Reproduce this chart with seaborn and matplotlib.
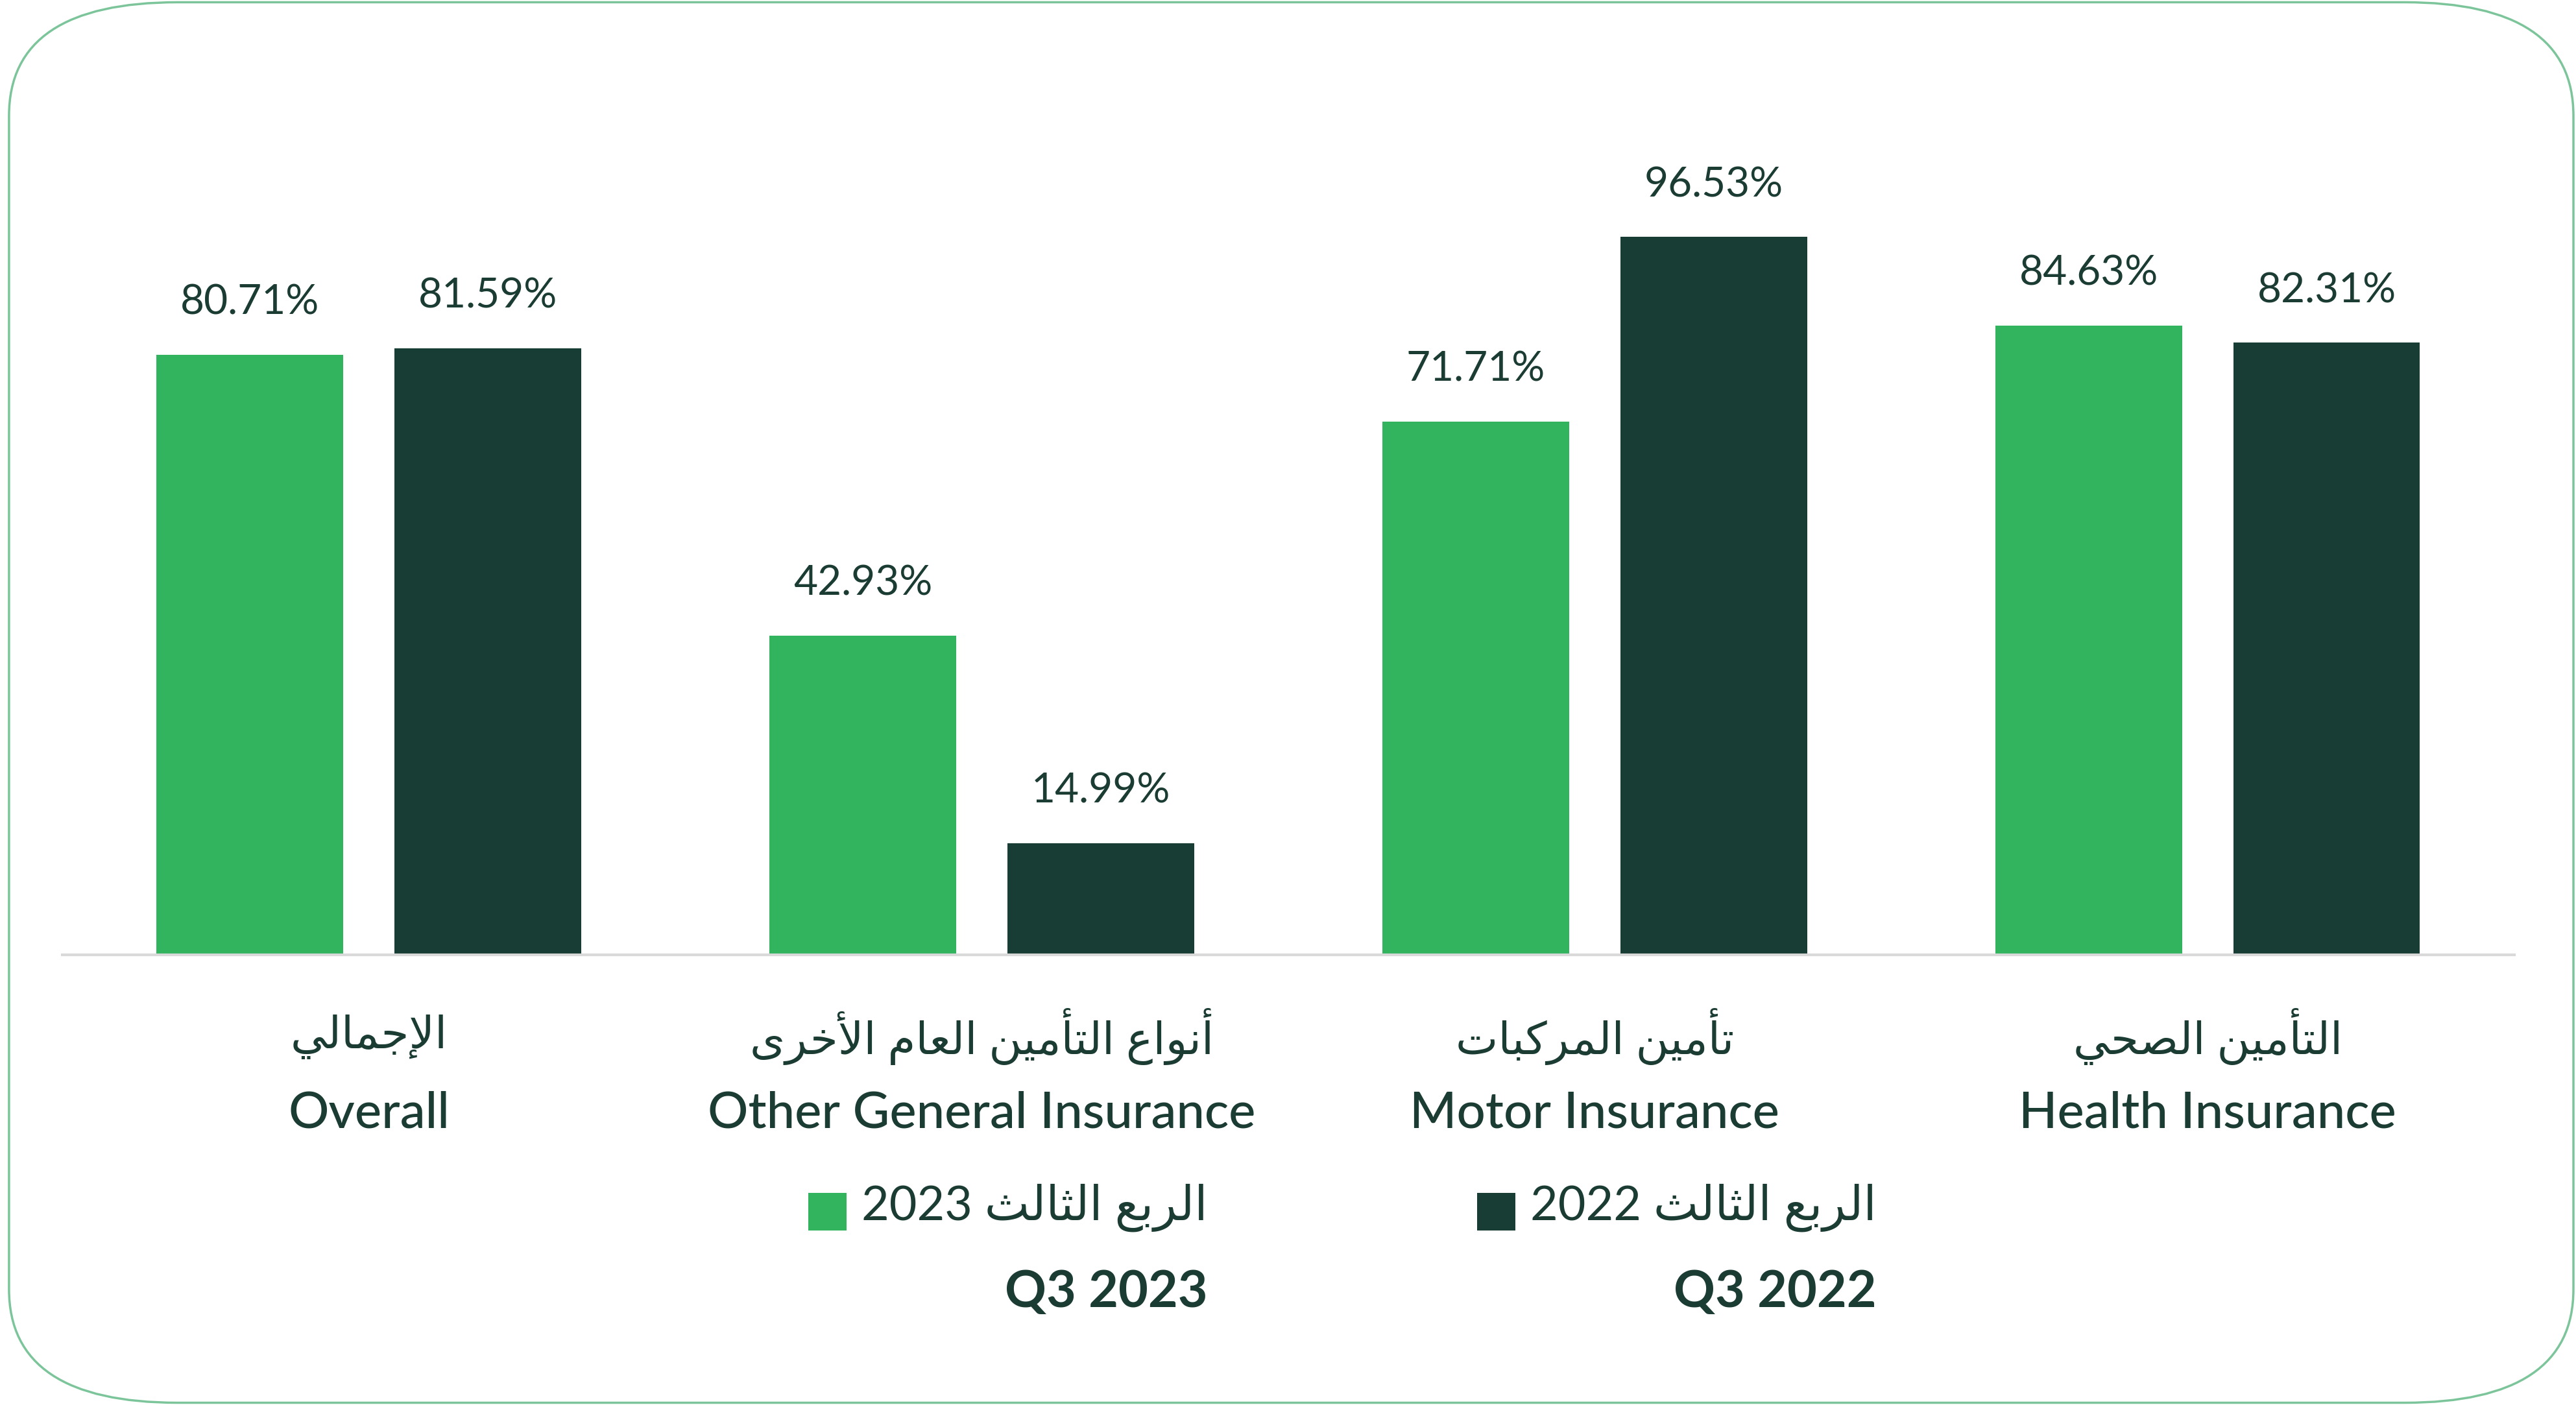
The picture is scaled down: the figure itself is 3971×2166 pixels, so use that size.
import re
import pandas as pd
import matplotlib
matplotlib.use("Agg")
import matplotlib.pyplot as plt
from matplotlib.patches import FancyBboxPatch, Rectangle
import seaborn as sns

# Data
categories_en = ["Overall", "Other General Insurance", "Motor Insurance", "Health Insurance"]
categories_ar = ["الإجمالي", "أنواع التأمين العام الأخرى", "تأمين المركبات", "التأمين الصحي"]
periods = ["Q3 2023", "Q3 2022"]
periods_ar = ["الربع الثالث 2023", "الربع الثالث 2022"]
values_2023 = [80.71, 42.93, 71.71, 84.63]
values_2022 = [81.59, 14.99, 96.53, 82.31]

GREEN = "#32b45f"
DARK = "#183d35"
TEXT = "#1b3c33"
FONTS = ["Lato", "DejaVu Sans"]

# matplotlib has no Arabic shaping, so map letters to their presentation forms
AR_BASE = {'ا': 0xFE8D, 'أ': 0xFE83, 'إ': 0xFE87, 'ر': 0xFEAD, 'و': 0xFEED, 'ى': 0xFEEF,
           'ب': 0xFE8F, 'ت': 0xFE95, 'ث': 0xFE99, 'ج': 0xFE9D, 'ح': 0xFEA1, 'خ': 0xFEA5,
           'ص': 0xFEB9, 'ع': 0xFEC9, 'ك': 0xFED9, 'ل': 0xFEDD, 'م': 0xFEE1, 'ن': 0xFEE5,
           'ي': 0xFEF1}
RIGHT_ONLY = set('اأإروى')
LAM_ALEF = {'ا': 0xFEFB, 'أ': 0xFEF7, 'إ': 0xFEF9}


def shape(text):
    chars = []
    i = 0
    while i < len(text):
        c = text[i]
        if c == 'ل' and i + 1 < len(text) and text[i + 1] in LAM_ALEF:
            chars.append(('LA', text[i + 1]))
            i += 2
        else:
            chars.append((c, None))
            i += 1
    out = []
    for k, (c, alef) in enumerate(chars):
        prev = chars[k - 1][0] if k > 0 else None
        nxt = chars[k + 1][0] if k + 1 < len(chars) else None
        joins_prev = prev in AR_BASE and prev not in RIGHT_ONLY
        if c == 'LA':
            out.append(chr(LAM_ALEF[alef] + (1 if joins_prev else 0)))
            continue
        if c not in AR_BASE:
            out.append(c)
            continue
        base = AR_BASE[c]
        if c in RIGHT_ONLY:
            out.append(chr(base + (1 if joins_prev else 0)))
            continue
        joins_next = nxt is not None and (nxt in AR_BASE or nxt == 'LA')
        if joins_prev and joins_next:
            form = 3
        elif joins_prev:
            form = 1
        elif joins_next:
            form = 2
        else:
            form = 0
        out.append(chr(base + form))
    return ''.join(out)


def ar(text):
    # shape, then lay out right-to-left keeping digit runs in order
    runs = re.findall(r'[0-9]+|[^0-9]+', shape(text))
    return ''.join(r if r.isdigit() else r[::-1] for r in reversed(runs))


df = pd.DataFrame({
    "category": categories_en * 2,
    "value": values_2023 + values_2022,
    "period": [periods[0]] * 4 + [periods[1]] * 4,
})

sns.set_style("white")
plt.rcParams["font.family"] = FONTS

fig = plt.figure(figsize=(39.71, 21.66), dpi=100)
ax = fig.add_axes([0.0242, 0.3204, 0.9518, 0.5822])

sns.barplot(data=df, x="category", y="value", hue="period", order=categories_en,
            hue_order=periods, palette=[GREEN, DARK], saturation=1,
            width=0.776, gap=0.215, linewidth=0, edgecolor="none",
            legend=False, errorbar=None, ax=ax)

for cont in ax.containers:
    ax.bar_label(cont, labels=[f"{b.get_height():.2f}%" for b in cont],
                 padding=37, fontsize=46, color=TEXT, family=FONTS)

ax.set_xlim(-0.5, 3.5)
ax.set_ylim(0, 110)
ax.set_xlabel("")
ax.set_ylabel("")
ax.set_xticks([])
ax.set_yticks([])
for side in ["top", "left", "right"]:
    ax.spines[side].set_visible(False)
ax.spines["bottom"].set_color("#d9d9d9")
ax.spines["bottom"].set_linewidth(3)

# Bilingual category labels under each group
trans = ax.get_xaxis_transform()
for i, (en, a) in enumerate(zip(categories_en, categories_ar)):
    ax.text(i, -0.100, ar(a), transform=trans, ha="center", va="center",
            fontsize=50, color=TEXT, family=FONTS)
    ax.text(i, -0.194, en, transform=trans, ha="center", va="center",
            fontsize=56, color=TEXT, family=FONTS, fontweight="medium")

# Legend drawn by hand: square, Arabic label, English label below
legend_specs = [(0.3138, 0.4689, GREEN), (0.5734, 0.7285, DARK)]
for (sq_x, txt_x, col), en, a in zip(legend_specs, periods, periods_ar):
    fig.patches.append(Rectangle((sq_x, 0.1242), 0.0148, 0.0268, transform=fig.transFigure,
                                 facecolor=col, edgecolor="none"))
    fig.text(txt_x, 0.1403, ar(a), ha="right", va="center", fontsize=53, color=TEXT,
             family=FONTS)
    fig.text(txt_x, 0.0799, en, ha="right", va="center", fontsize=57, color=TEXT,
             family=FONTS, fontweight="bold")

# Rounded card border
fig.patches.append(FancyBboxPatch((0.0035, 0.0016), 0.9955, 0.9968,
                                  boxstyle="round,pad=0,rounding_size=0.0655",
                                  mutation_aspect=1.233, transform=fig.transFigure,
                                  facecolor="none", edgecolor="#7cc59a", linewidth=2.5))

fig.savefig("out.png", dpi=100, facecolor="white")
plt.close(fig)
